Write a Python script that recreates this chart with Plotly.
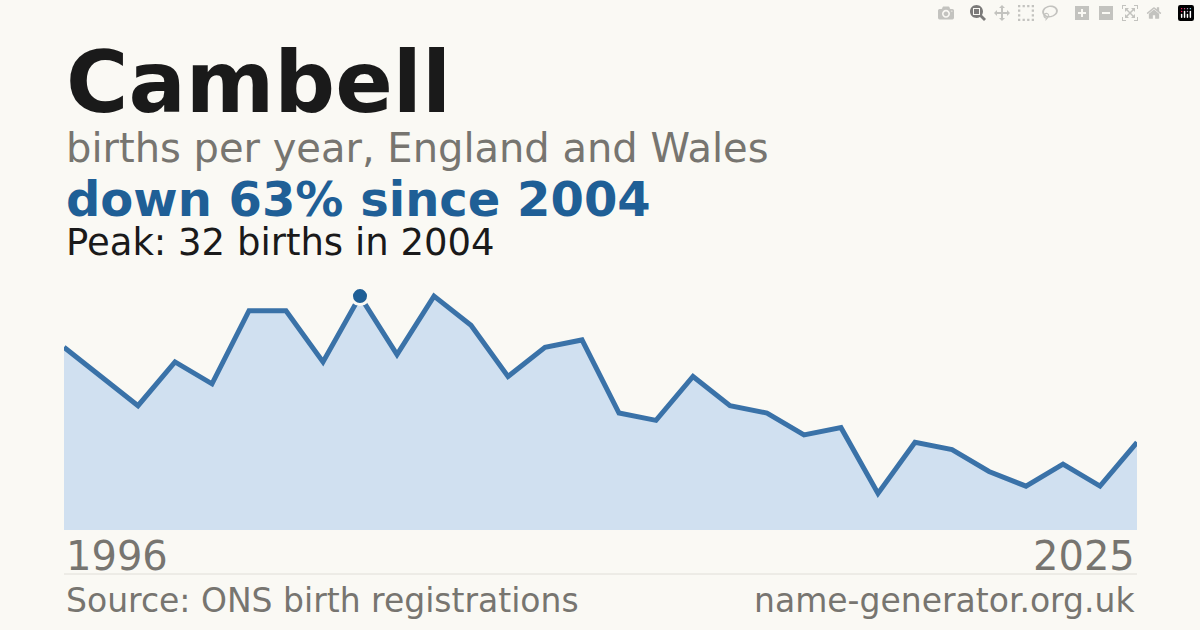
import plotly.graph_objects as go

# Data =========================================================================
years = list(range(1996, 2026))
births = [25, 21, 17, 23, 20, 30, 30, 23, 32, 24, 32, 28, 21, 25, 26,
          16, 15, 21, 17, 16, 13, 14, 5, 12, 11, 8, 6, 9, 6, 12]
peak_year = 2004
peak_value = 32

# Plot =========================================================================
fig = go.Figure()
fig.add_trace(go.Scatter(x=years, y=births, mode='lines', fill='tozeroy',
                         fillcolor='#d0e0f0', line=dict(color='#3a72a8', width=5),
                         hoverinfo='skip'))
fig.add_trace(go.Scatter(x=[peak_year], y=[peak_value], mode='markers',
                         marker=dict(size=17, color='#1f5f96', line=dict(color='#faf9f4', width=3))))

font = 'DejaVu Sans'
def txt(s, x, y, size, color, bold=False, xanchor='left'):
    fig.add_annotation(text=f'<b>{s}</b>' if bold else s, x=x, y=y, xref='paper', yref='paper',
                       xanchor=xanchor, yanchor='middle', showarrow=False,
                       font=dict(family=font, size=size, color=color))

txt('Cambell', 0, 1.792, 85, '#1a1a1a', bold=True)
txt('births per year, England and Wales', 0, 1.528, 40, '#777570')
txt('down 63% since 2004', 0, 1.324, 48, '#1f5f96', bold=True)
txt('Peak: 32 births in 2004', 0, 1.152, 37, '#1a1a1a')
txt('1996', 0, -0.104, 40, '#777570')
txt('2025', 1, -0.104, 40, '#777570', xanchor='right')
txt('Source: ONS birth registrations', 0, -0.28, 33, '#777570')
txt('name-generator.org.uk', 1, -0.28, 33, '#777570', xanchor='right')

fig.add_shape(type='line', xref='paper', yref='paper', x0=0, x1=1, y0=-0.176, y1=-0.176,
              line=dict(color='#e0ded8', width=1))

fig.update_layout(width=1200, height=630, showlegend=False,
                  paper_bgcolor='#faf9f4', plot_bgcolor='#faf9f4',
                  margin=dict(l=64, r=63, t=280, b=100))
fig.update_xaxes(visible=False, range=[1996, 2025])
fig.update_yaxes(visible=False, range=[0, 34.2])

fig.write_html('out.html', post_script="document.body.style.margin='0';")
